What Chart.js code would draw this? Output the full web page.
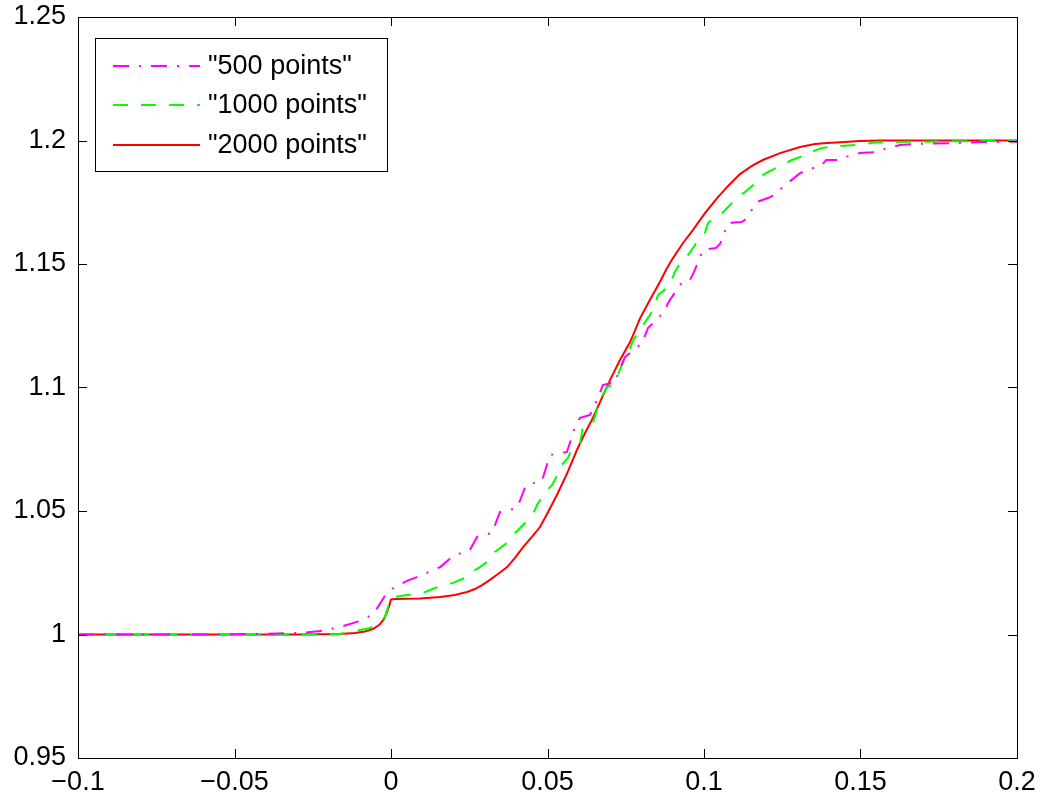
<!DOCTYPE html>
<html>
<head>
<meta charset="utf-8">
<script src="https://cdn.jsdelivr.net/npm/chart.js@4/dist/chart.umd.min.js"></script>
<style>
  body { margin: 0; background: #fff; }
  #wrap { width: 1058px; height: 806px; }
</style>
</head>
<body>
<div id="wrap"><canvas id="plot" width="1058" height="806"></canvas></div>
<script>
// series labels
const labels = ['"500 points"', '"1000 points"', '"2000 points"'];

// tick values
const xTicks = [-0.1, -0.05, 0, 0.05, 0.1, 0.15, 0.2];
const yTicks = [0.95, 1, 1.05, 1.1, 1.15, 1.2, 1.25];

// "500 points"
const x500 = [-0.1, -0.0610, -0.0450, -0.0291, -0.0227, -0.0163, -0.0109, -0.0061, -0.0042, -0.0016,
  -0.0003, 0.0051, 0.0099, 0.0157, 0.0198, 0.0252, 0.0275, 0.0323, 0.0348, 0.0403,
  0.0431, 0.0482, 0.0508, 0.0562, 0.0588, 0.0604, 0.0636, 0.0661, 0.0677, 0.0719,
  0.0725, 0.0748, 0.0776, 0.0802, 0.0821, 0.0847, 0.0869, 0.0891, 0.0930, 0.0955,
  0.0968, 0.0997, 0.1038, 0.1051, 0.1077, 0.1121, 0.1134, 0.1169, 0.1204, 0.1217,
  0.1268, 0.1307, 0.1332, 0.1377, 0.1390, 0.1425, 0.1450, 0.1498, 0.1546, 0.1578,
  0.1626, 0.1681, 0.1722, 0.1812, 0.1891, 0.1946, 0.2];
const y500 = [1.0, 1.0, 1.0002, 1.0006, 1.0014, 1.0030, 1.0051, 1.0079, 1.0111, 1.0164,
  1.0180, 1.0217, 1.0241, 1.0273, 1.0318, 1.0342, 1.0395, 1.0411, 1.0496, 1.0512,
  1.0605, 1.0621, 1.0727, 1.0739, 1.0840, 1.0877, 1.0889, 1.0958, 1.1010, 1.1023,
  1.1059, 1.1124, 1.1152, 1.1180, 1.1241, 1.1273, 1.1302, 1.1354, 1.1427, 1.1435,
  1.1468, 1.1557, 1.1565, 1.1581, 1.1666, 1.1670, 1.1682, 1.1751, 1.1767, 1.1775,
  1.1828, 1.1868, 1.1881, 1.1901, 1.1921, 1.1921, 1.1933, 1.1949, 1.1953, 1.1966,
  1.1982, 1.1986, 1.1988, 1.1990, 1.1994, 1.1994, 1.1995];

// "1000 points"
const x1000 = [-0.1, -0.0227, -0.0173, -0.0115, -0.0067, -0.0035, -0.0019, -0.0003, 0.0013, 0.0051,
  0.0093, 0.0125, 0.0157, 0.0198, 0.0236, 0.0252, 0.0284, 0.0316, 0.0332, 0.0371,
  0.0396, 0.0406, 0.0438, 0.0460, 0.0466, 0.0492, 0.0514, 0.0524, 0.0540, 0.0565,
  0.0572, 0.0604, 0.0613, 0.0645, 0.0668, 0.0690, 0.0706, 0.0722, 0.0741, 0.0757,
  0.0770, 0.0780, 0.0796, 0.0812, 0.0834, 0.0843, 0.0853, 0.0882, 0.0891, 0.0907,
  0.0930, 0.0949, 0.0965, 0.0987, 0.1003, 0.1013, 0.1045, 0.1058, 0.1083, 0.1115,
  0.1131, 0.1157, 0.1188, 0.1204, 0.1236, 0.1281, 0.1307, 0.1332, 0.1377, 0.1403,
  0.1435, 0.1489, 0.1518, 0.1546, 0.1594, 0.1690, 0.2];
const y1000 = [1.0, 1.0, 1.0, 1.0014, 1.0026, 1.0051, 1.0071, 1.0140, 1.0152, 1.0160,
  1.0164, 1.0180, 1.0196, 1.0209, 1.0229, 1.0249, 1.0273, 1.0302, 1.0334, 1.0371,
  1.0411, 1.0423, 1.0464, 1.0504, 1.0524, 1.0573, 1.0605, 1.0626, 1.0678, 1.0715,
  1.0735, 1.0775, 1.0840, 1.0856, 1.0950, 1.1002, 1.1010, 1.1043, 1.1100, 1.1132,
  1.1180, 1.1204, 1.1233, 1.1265, 1.1306, 1.1334, 1.1374, 1.1403, 1.1415, 1.1468,
  1.1516, 1.1536, 1.1565, 1.1609, 1.1626, 1.1666, 1.1698, 1.1706, 1.1739, 1.1779,
  1.1791, 1.1820, 1.1860, 1.1872, 1.1893, 1.1921, 1.1933, 1.1949, 1.1970, 1.1974,
  1.1978, 1.1982, 1.1986, 1.1992, 1.1994, 1.1995, 1.2];

// "2000 points"
const x2000 = [-0.1, -0.0291, -0.0163, -0.0115, -0.0083, -0.0058, -0.0038, -0.0022, -0.0013, -0.0006,
  0, 0.0013, 0.0093, 0.0157, 0.0204, 0.0243, 0.0268, 0.0291, 0.0316, 0.0342,
  0.0371, 0.0396, 0.0422, 0.0450, 0.0476, 0.0502, 0.0530, 0.0562, 0.0594, 0.0620,
  0.0645, 0.0671, 0.0700, 0.0732, 0.0764, 0.0796, 0.0827, 0.0859, 0.0882, 0.0901,
  0.0933, 0.0965, 0.1003, 0.1042, 0.1077, 0.1115, 0.1153, 0.1188, 0.1243, 0.1307,
  0.1355, 0.1393, 0.1450, 0.1498, 0.1562, 0.2];
const y2000 = [1.0, 1.0, 1.0002, 1.0006, 1.0012, 1.0022, 1.0038, 1.0063, 1.0091, 1.0115,
  1.0142, 1.0144, 1.0146, 1.0152, 1.0160, 1.0172, 1.0184, 1.0200, 1.0221, 1.0245,
  1.0273, 1.0310, 1.0354, 1.0395, 1.0435, 1.0496, 1.0565, 1.0650, 1.0747, 1.0816,
  1.0877, 1.0950, 1.1031, 1.1112, 1.1184, 1.1281, 1.1354, 1.1427, 1.1484, 1.1524,
  1.1585, 1.1638, 1.1706, 1.1767, 1.1816, 1.1864, 1.1897, 1.1921, 1.1949, 1.1974,
  1.1986, 1.1990, 1.1994, 1.1998, 1.2, 1.2];

const pts = (xs, ys) => xs.map((x, i) => ({ x: x, y: ys[i] }));
const fmt = v => String(Math.round(v * 100) / 100).replace('-', '\u2212');
const FONT = 'Liberation Sans, Arial, Helvetica, sans-serif';

// matlab style box, inward ticks and legend
const matlabAxes = {
  id: 'matlabAxes',
  afterDraw(chart) {
    const ctx = chart.ctx;
    const a = chart.chartArea;
    const sx = chart.scales.x, sy = chart.scales.y;
    const tl = 9;
    ctx.save();
    ctx.strokeStyle = '#000';
    ctx.lineWidth = 1;
    ctx.setLineDash([]);
    ctx.beginPath();
    xTicks.forEach(v => {
      const p = Math.round(sx.getPixelForValue(v)) + 0.5;
      ctx.moveTo(p, a.bottom); ctx.lineTo(p, a.bottom - tl);
      ctx.moveTo(p, a.top); ctx.lineTo(p, a.top + tl);
    });
    yTicks.forEach(v => {
      const p = Math.round(sy.getPixelForValue(v)) + 0.5;
      ctx.moveTo(a.left, p); ctx.lineTo(a.left + tl, p);
      ctx.moveTo(a.right, p); ctx.lineTo(a.right - tl, p);
    });
    ctx.stroke();
    ctx.strokeRect(Math.round(a.left) + 0.5, Math.round(a.top) + 0.5,
      Math.round(a.right - a.left), Math.round(a.bottom - a.top));

    // legend
    const bx = 95.5, by = 38.5, bw = 292, bh = 133;
    ctx.fillStyle = '#fff';
    ctx.fillRect(bx, by, bw, bh);
    ctx.strokeRect(bx, by, bw, bh);
    const rows = [66, 105, 145];
    chart.data.datasets.forEach((ds, i) => {
      ctx.save();
      ctx.strokeStyle = ds.borderColor;
      ctx.lineWidth = ds.borderWidth;
      ctx.setLineDash(ds.borderDash || []);
      ctx.beginPath();
      ctx.moveTo(113, rows[i]);
      ctx.lineTo(200, rows[i]);
      ctx.stroke();
      ctx.restore();
      ctx.fillStyle = '#000';
      ctx.font = '27px ' + FONT;
      ctx.textBaseline = 'middle';
      ctx.textAlign = 'left';
      ctx.fillText(ds.label, 208, rows[i] + 1);
    });
    ctx.restore();
  }
};

new Chart(document.getElementById('plot').getContext('2d'), {
  type: 'line',
  data: {
    datasets: [
      { label: labels[0], data: pts(x500, y500), borderColor: '#ff00ff', borderWidth: 2,
        borderDash: [16, 10, 2, 10] },
      { label: labels[1], data: pts(x1000, y1000), borderColor: '#00ff00', borderWidth: 2,
        borderDash: [15, 13] },
      { label: labels[2], data: pts(x2000, y2000), borderColor: '#ff0000', borderWidth: 2 }
    ]
  },
  options: {
    responsive: false,
    animation: false,
    events: [],
    layout: { padding: { top: 17, right: 41, left: 0, bottom: 0 } },
    elements: { point: { radius: 0 }, line: { tension: 0, fill: false } },
    plugins: { legend: { display: false }, tooltip: { enabled: false } },
    scales: {
      x: {
        type: 'linear', min: -0.1, max: 0.2,
        afterBuildTicks: s => { s.ticks = xTicks.map(v => ({ value: v })); },
        afterFit: s => { s.height = 48; s.paddingLeft = 0; s.paddingRight = 0; },
        grid: { display: false, drawTicks: false },
        border: { display: false },
        ticks: { color: '#000', font: { size: 27, family: FONT }, padding: 8, maxRotation: 0,
          autoSkip: false, callback: v => fmt(v) }
      },
      y: {
        type: 'linear', min: 0.95, max: 1.25,
        afterBuildTicks: s => { s.ticks = yTicks.map(v => ({ value: v })); },
        afterFit: s => { s.width = 78; s.paddingTop = 0; s.paddingBottom = 0; },
        grid: { display: false, drawTicks: false },
        border: { display: false },
        ticks: { color: '#000', font: { size: 27, family: FONT }, padding: 12,
          autoSkip: false, callback: v => fmt(v) }
      }
    }
  },
  plugins: [matlabAxes]
});
</script>
</body>
</html>
